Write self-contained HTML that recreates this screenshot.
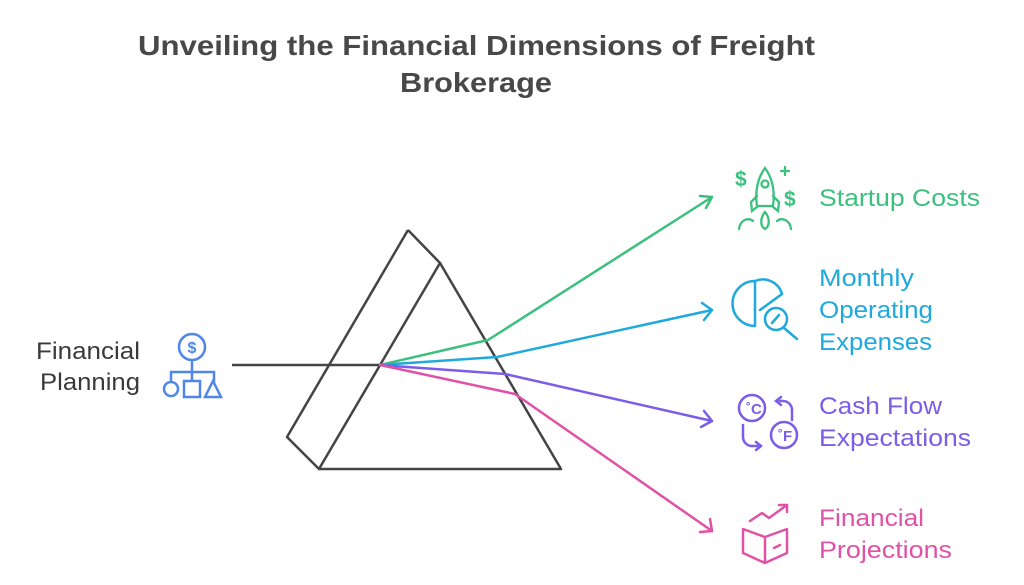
<!DOCTYPE html>
<html><head><meta charset="utf-8"><style>
html,body{margin:0;padding:0;background:#fff;width:1024px;height:585px;overflow:hidden}
svg text{font-family:"Liberation Sans",sans-serif}
</style></head><body>
<svg width="1024" height="585" viewBox="0 0 1024 585" xmlns="http://www.w3.org/2000/svg">
<g font-weight="bold" fill="#484848" font-size="28">
<text x="138" y="55" textLength="677" lengthAdjust="spacingAndGlyphs">Unveiling the Financial Dimensions of Freight</text>
<text x="400" y="92" textLength="152" lengthAdjust="spacingAndGlyphs">Brokerage</text>
</g>
<g fill="none" stroke="#444" stroke-width="2.5" stroke-linejoin="round">
<polyline points="408,230 440,263 319,469 287,437 408,230"/>
<polyline points="440,263 561,469 319,469"/>
<line x1="232" y1="365" x2="380" y2="365"/>
</g>
<g fill="none" stroke-width="2.5" stroke-linecap="round" stroke-linejoin="round">
<polyline stroke="#3cc07e" points="380,365 488,340 712,197"/>
<polyline stroke="#3cc07e" points="700,196 712,197 706,208"/>
<polyline stroke="#1fa9dc" points="380,365 497,357 712,310"/>
<polyline stroke="#1fa9dc" points="702,303 712,310 704,320"/>
<polyline stroke="#7a5de8" points="380,365 505,374 712,421"/>
<polyline stroke="#7a5de8" points="704,411 712,421 701,427"/>
<polyline stroke="#e052a6" points="380,365 515,394 712,531"/>
<polyline stroke="#e052a6" points="710,519 712,531 700,532"/>
</g>
<g fill="none" stroke="#4f86e8" stroke-width="2.5">
<circle cx="192" cy="347" r="13"/>
<text x="192" y="353" font-size="16" fill="#4f86e8" stroke="none" text-anchor="middle" font-weight="bold">$</text>
<polyline points="192,360 192,372"/>
<polyline points="171,382 171,372 214,372 214,382"/>
<line x1="192" y1="372" x2="192" y2="381"/>
<circle cx="171" cy="389" r="7"/>
<rect x="184" y="381" width="16" height="16"/>
<polygon points="213,381 221,397 205,397"/>
</g>
<g fill="#3a3a3a" font-size="24">
<text x="36" y="359" textLength="104" lengthAdjust="spacingAndGlyphs">Financial</text>
<text x="40" y="390" textLength="100" lengthAdjust="spacingAndGlyphs">Planning</text>
</g>
<g fill="none" stroke="#3cc07e" stroke-width="2.3" stroke-linecap="round">
<path d="M765 168 C757 179 755 192 757 206 L773 206 C775 192 773 179 765 168Z"/>
<circle cx="765" cy="184" r="3.5"/>
<path d="M757 196 L751 202 L752 211 L757 207 M773 196 L779 202 L778 211 L773 207"/>
<path d="M765 212 C760 218 760 226 765 229 C770 226 770 218 765 212Z"/>
<path d="M739 229 C740 220 748 217 753 221 M791 229 C790 220 782 217 777 221"/>
<path d="M785 167 v8 M781 171 h8"/>
</g>
<g fill="#3cc07e" font-size="21" font-weight="bold"><text x="735" y="186">$</text><text x="784" y="206">$</text></g>
<g fill="none" stroke="#1fa9dc" stroke-width="2.5" stroke-linecap="round">
<path d="M755 326 A20 20 0 0 1 755 281 L755 326"/>
<path d="M755 281 A20 20 0 0 1 782 294 L760 310"/>
<circle cx="776" cy="319" r="11"/>
<line x1="772" y1="323" x2="779" y2="315"/>
<line x1="784" y1="328" x2="797" y2="339"/>
</g>
<g fill="none" stroke="#7a5de8" stroke-width="2.5" stroke-linecap="round">
<circle cx="752" cy="408" r="13"/>
<circle cx="784" cy="435" r="13"/>
<path d="M792 420 V410 A9 9 0 0 0 783 401 H777 M781 397 L776 401 L781 405"/>
<path d="M743 425 V437 A9 9 0 0 0 752 446 H760 M756 442 L761 446 L756 450"/>
</g>
<g fill="#7a5de8" font-size="15" font-weight="bold"><text x="746" y="414">˚C</text><text x="778" y="441">˚F</text></g>
<g fill="none" stroke="#e052a6" stroke-width="2.5" stroke-linecap="round" stroke-linejoin="round">
<polyline points="750,521 762,513 769,518 787,505"/>
<polyline points="779,505 787,505 787,512"/>
<path d="M743 529 L765 537 L787 529 L787 553 L765 563 L743 553 Z M765 537 V563"/>
<line x1="774" y1="548" x2="780" y2="545"/>
</g>
<g font-size="24">
<text x="819" y="206" fill="#3cc07e" textLength="161" lengthAdjust="spacingAndGlyphs">Startup Costs</text>
<g fill="#1fa9dc"><text x="819" y="286" textLength="95" lengthAdjust="spacingAndGlyphs">Monthly</text><text x="819" y="318" textLength="114" lengthAdjust="spacingAndGlyphs">Operating</text><text x="819" y="350" textLength="113" lengthAdjust="spacingAndGlyphs">Expenses</text></g>
<g fill="#7a5de8"><text x="819" y="414" textLength="123" lengthAdjust="spacingAndGlyphs">Cash Flow</text><text x="819" y="446" textLength="152" lengthAdjust="spacingAndGlyphs">Expectations</text></g>
<g fill="#e052a6"><text x="819" y="526" textLength="105" lengthAdjust="spacingAndGlyphs">Financial</text><text x="819" y="558" textLength="133" lengthAdjust="spacingAndGlyphs">Projections</text></g>
</g>
</svg>
</body></html>
